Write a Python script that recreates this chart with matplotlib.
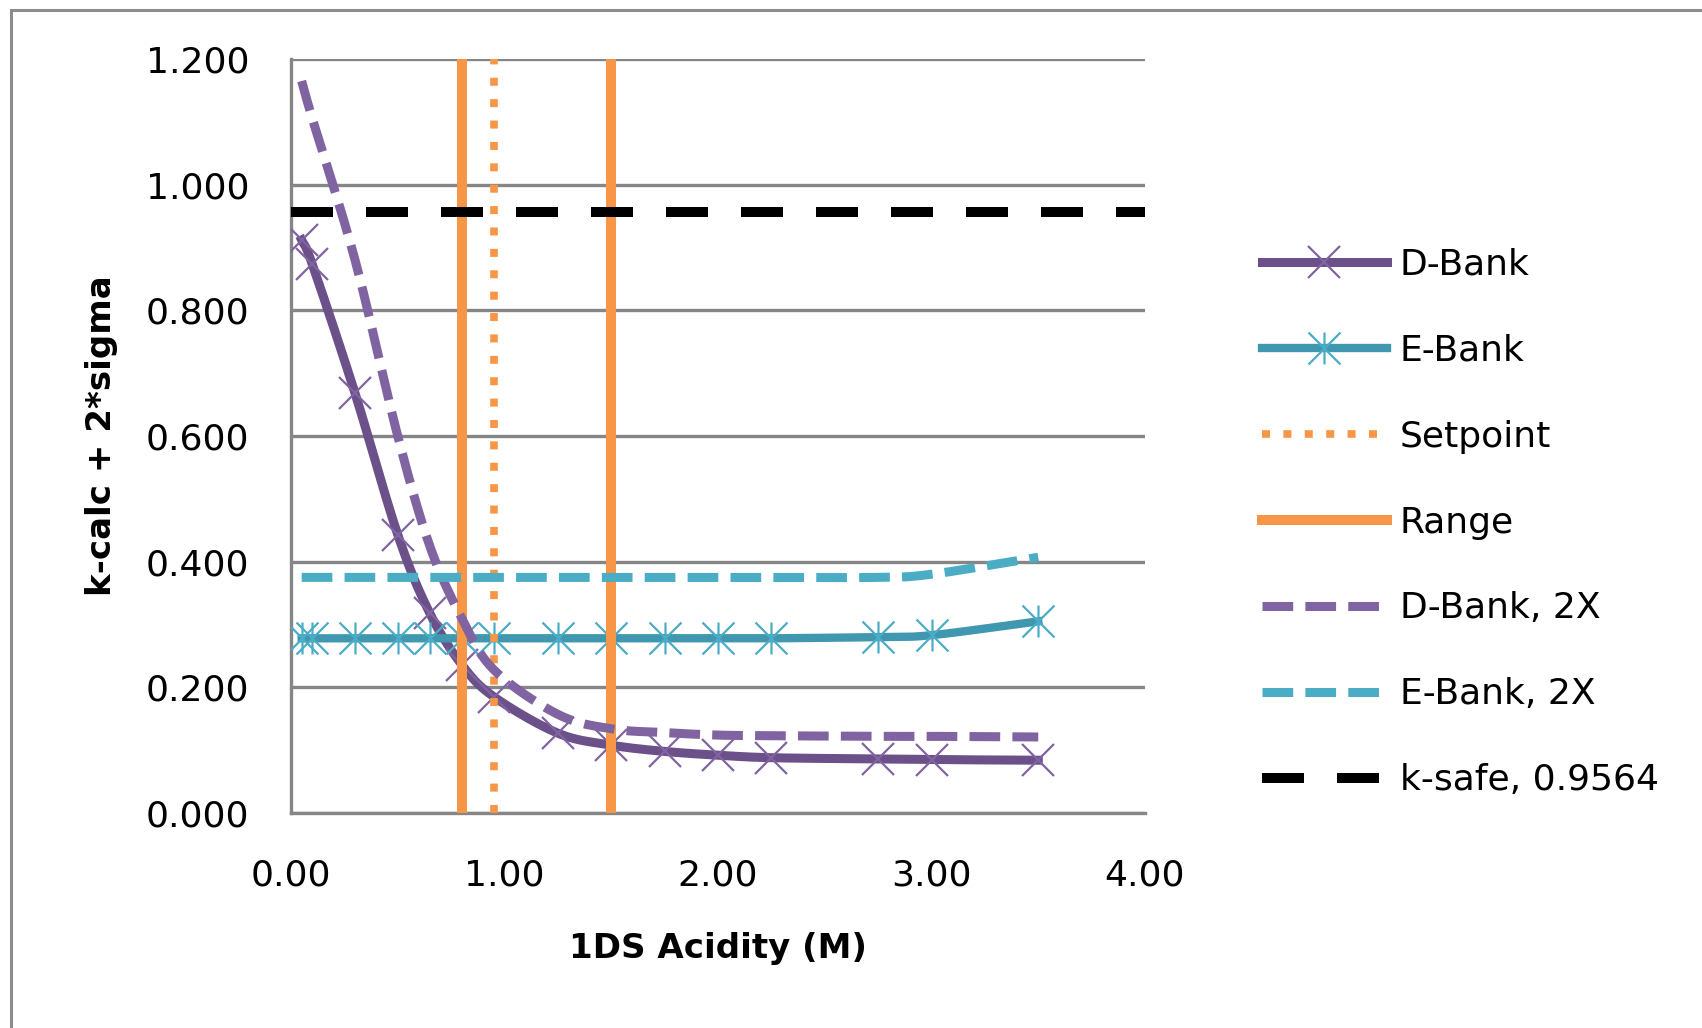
import numpy as np
import matplotlib
matplotlib.use('Agg')
import matplotlib.pyplot as plt
from matplotlib.path import Path
from matplotlib.patches import Rectangle
from matplotlib.ticker import FormatStrFormatter

#* Datos
acidez = [0.05, 0.1, 0.3, 0.5, 0.65, 0.8, 0.95, 1.25, 1.5, 1.75, 2.0, 2.25, 2.75, 3.0, 3.5]
d_bank = [0.912, 0.873, 0.668, 0.443, 0.318, 0.236, 0.185, 0.127, 0.108, 0.098, 0.092, 0.088, 0.086, 0.085, 0.084]
e_bank = [0.278, 0.278, 0.278, 0.278, 0.278, 0.278, 0.278, 0.278, 0.278, 0.278, 0.278, 0.278, 0.280, 0.283, 0.305]
d_bank_2x = [1.165, 1.105, 0.880, 0.600, 0.425, 0.310, 0.228, 0.157, 0.134, 0.128, 0.124, 0.123, 0.122, 0.122, 0.121]
e_bank_2x = [0.375, 0.375, 0.375, 0.375, 0.375, 0.375, 0.375, 0.375, 0.375, 0.375, 0.375, 0.375, 0.375, 0.380, 0.407]

setpoint = 0.95
rango = [0.8, 1.5]
k_safe = 0.9564

y_ticks = [0.0, 0.2, 0.4, 0.6, 0.8, 1.0, 1.2]
x_ticks = [0.0, 1.0, 2.0, 3.0, 4.0]

MORADO = '#6b5089'
MORADO_CLARO = '#8064a2'
AQUA = '#3f97b0'
AQUA_CLARO = '#4bacc6'
NARANJA = '#f79646'
GRIS = '#868686'


#* Linea suavizada tipo Excel (Catmull-Rom), devuelve tambien los indices de los puntos
def suavizar(x, y, n=20):
     p = np.column_stack([x, y]).astype(float)
     ext = np.vstack([2*p[0] - p[1], p, 2*p[-1] - p[-2]])
     t = np.linspace(0, 1, n, endpoint=False)[:, None]
     trozos = []
     for i in range(1, len(ext) - 2):
          p0, p1, p2, p3 = ext[i-1], ext[i], ext[i+1], ext[i+2]
          c1 = p1 + (p2 - p0)/6
          c2 = p2 - (p3 - p1)/6
          trozos.append((1-t)**3*p1 + 3*(1-t)**2*t*c1 + 3*(1-t)*t**2*c2 + t**3*p2)
     trozos.append(p[-1:])
     curva = np.vstack(trozos)
     indices = [i*n for i in range(len(x))]
     return curva[:, 0], curva[:, 1], indices


#* Marcador asterisco de Excel (x con barra vertical)
asterisco = Path([(-1, -1), (1, 1), (-1, 1), (1, -1), (0, -1), (0, 1)],
                 [Path.MOVETO, Path.LINETO, Path.MOVETO, Path.LINETO, Path.MOVETO, Path.LINETO])

plt.rcParams['font.family'] = ['DejaVu Sans']

fig = plt.figure(figsize=(17.02, 10.28), dpi=100)
ax = fig.add_axes([291/1702, 1 - 813/1028, 854/1702, 754/1028])

xs, ys, idx = suavizar(acidez, d_bank)
ax.plot(xs, ys, color=MORADO, lw=6.5, marker='x', markevery=idx, ms=23,
        mec=MORADO_CLARO, mew=1.6, label='D-Bank', zorder=3)

xs, ys, idx = suavizar(acidez, e_bank)
ax.plot(xs, ys, color=AQUA, lw=6, marker=asterisco, markevery=idx, ms=23,
        mec=AQUA_CLARO, mew=1.6, label='E-Bank', zorder=4)

ax.axvline(setpoint, color=NARANJA, lw=5.5, dashes=(1.05, 1.75), label='Setpoint', zorder=5)
ax.axvline(rango[0], color=NARANJA, lw=7.2, label='Range', zorder=6)
ax.axvline(rango[1], color=NARANJA, lw=7.2, zorder=6)

xs, ys, idx = suavizar(acidez, d_bank_2x)
ax.plot(xs, ys, color=MORADO_CLARO, lw=6.5, dashes=(3.4, 1.35), label='D-Bank, 2X', zorder=7)

xs, ys, idx = suavizar(acidez, e_bank_2x)
ax.plot(xs, ys, color=AQUA_CLARO, lw=6.5, dashes=(3.4, 1.35), label='E-Bank, 2X', zorder=8)

ax.axhline(k_safe, color='black', lw=7.2, dashes=(4.2, 3.3), label='k-safe, 0.9564', zorder=9)

#* Ejes
ax.set_xlim(0, 4)
ax.set_ylim(0, 1.2)
ax.set_xticks(x_ticks)
ax.set_yticks(y_ticks)
ax.xaxis.set_major_formatter(FormatStrFormatter('%.2f'))
ax.yaxis.set_major_formatter(FormatStrFormatter('%.3f'))
ax.tick_params(length=0, labelsize=26, pad=0)
ax.tick_params(axis='y', pad=30)
ax.tick_params(axis='x', pad=33)
ax.grid(True, axis='y', color=GRIS, lw=2.4)
ax.set_axisbelow(True)
for lado in ['top', 'right']:
     ax.spines[lado].set_visible(False)
for lado in ['left', 'bottom']:
     ax.spines[lado].set_color(GRIS)
     ax.spines[lado].set_linewidth(2.4)

ax.set_xlabel('1DS Acidity (M)', fontsize=24.5, fontweight='bold')
ax.set_ylabel('k-calc + 2*sigma', fontsize=24.5, fontweight='bold')
ax.xaxis.set_label_coords(0.5, -0.158)
ax.yaxis.set_label_coords(-0.203, 0.5)

ax.legend(loc='center left', bbox_to_anchor=(1262/1702, 1 - 522.5/1028),
          bbox_transform=fig.transFigure, frameon=False, fontsize=26,
          numpoints=1, handlelength=3.46, handletextpad=0.36,
          labelspacing=1.44, borderpad=0, borderaxespad=0)

#* Borde del area del grafico
fig.patches.append(Rectangle((11/1702, -0.1), 1.2, 1.1 - 10/1028, transform=fig.transFigure,
                             fill=False, edgecolor='#8c8c8c', lw=2.2))

fig.savefig('out.png', dpi=100)
